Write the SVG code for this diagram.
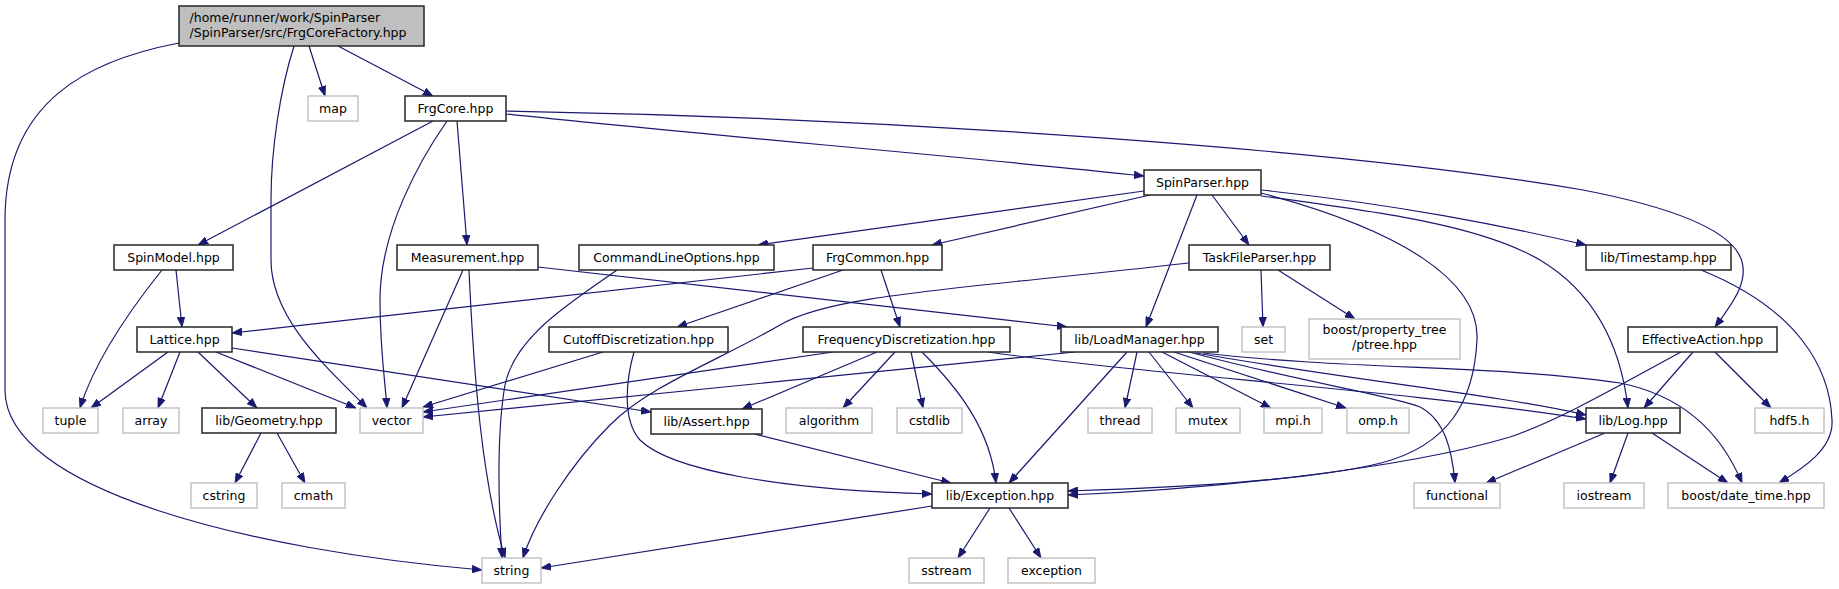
<svg xmlns="http://www.w3.org/2000/svg" width="1839" height="589" viewBox="0 0 1839 589">
<style>
.n rect{fill:#fff;stroke:#262626;stroke-width:1.5}
.x rect{fill:#fff;stroke:#c4c4c4;stroke-width:1.5}
.r rect{fill:#bfbfbf;stroke:#262626;stroke-width:1.5}
text{font-family:"DejaVu Sans","Liberation Sans",sans-serif;font-size:12.5px;fill:#000;text-anchor:middle}
#edges path{fill:none;stroke:#191970;stroke-width:1.2;marker-end:url(#a)}
</style>
<defs>
<marker id="a" viewBox="0 0 10 8" refX="10" refY="4" markerWidth="10" markerHeight="8" markerUnits="userSpaceOnUse" orient="auto">
<path d="M0,0.2L10,4L0,7.8z" fill="#191970" stroke="#191970" stroke-width="0.8"/>
</marker>
</defs>
<rect width="1839" height="589" fill="#fff"/>
<g id="edges">
<path d="M179,43 C90,60 5,100 5,220 L5,390 C5,490 250,550 482,570"/>
<path d="M294,46 C280,90 271,150 271,200 L271,260 C271,320 330,370 367,408"/>
<path d="M309,46 L325,96"/>
<path d="M338,46 L433,96"/>
<path d="M433,121 L198,245"/>
<path d="M447,121 C420,160 380,230 380,300 C380,350 385,380 387,408"/>
<path d="M457,121 L467,245"/>
<path d="M506,114 C700,135 950,155 1144,176"/>
<path d="M506,111 C900,118 1350,150 1583,190 C1790,230 1750,280 1715,327"/>
<path d="M1144,191 L758,245"/>
<path d="M1150,195 L932,245"/>
<path d="M1197,195 L1146,327"/>
<path d="M1212,195 L1249,245"/>
<path d="M1261,193 C1400,230 1480,280 1477,340 C1474,400 1450,445 1381,463 C1300,483 1150,488 1068,491"/>
<path d="M1261,196 C1380,212 1480,225 1540,260 C1590,290 1620,340 1628,408"/>
<path d="M1261,190 C1400,205 1500,225 1586,245"/>
<path d="M1261,270 L1263,327"/>
<path d="M1278,270 L1355,319"/>
<path d="M1189,263 C950,290 830,295 780,325 C720,360 650,385 610,425 C570,465 535,520 523,558"/>
<path d="M1701,270 C1800,310 1830,370 1832,420 C1834,450 1800,470 1779,483"/>
<path d="M1681,352 C1620,385 1560,420 1510,437 C1400,470 1200,490 1068,495"/>
<path d="M1693,352 L1644,408"/>
<path d="M1715,352 L1771,408"/>
<path d="M1605,433 L1486,483"/>
<path d="M1628,433 L1610,483"/>
<path d="M1652,433 L1728,483"/>
<path d="M1075,352 L423,417"/>
<path d="M1127,352 L1009,483"/>
<path d="M1137,352 L1125,408"/>
<path d="M1149,352 L1193,408"/>
<path d="M1162,352 L1271,408"/>
<path d="M1174,352 L1346,408"/>
<path d="M1189,352 C1300,382 1390,395 1420,407 C1445,420 1452,450 1455,483"/>
<path d="M1196,353 C1350,380 1500,395 1586,415"/>
<path d="M1203,353 C1350,370 1500,365 1620,383 C1680,395 1720,430 1742,483"/>
<path d="M833,352 L423,412"/>
<path d="M877,352 L742,409"/>
<path d="M895,352 L843,408"/>
<path d="M911,352 L923,408"/>
<path d="M922,352 C960,390 990,430 996,483"/>
<path d="M988,352 C1150,375 1400,390 1586,419"/>
<path d="M603,352 L423,407"/>
<path d="M634,352 C626,380 622,420 640,440 C670,470 780,490 932,494"/>
<path d="M813,268 L232,333"/>
<path d="M843,270 L677,327"/>
<path d="M881,270 L900,327"/>
<path d="M463,270 L402,408"/>
<path d="M469,270 C474,380 482,480 505,558"/>
<path d="M538,267 L1067,327"/>
<path d="M617,270 C575,300 515,335 505,385 C497,430 498,500 502,558"/>
<path d="M168,352 L91,408"/>
<path d="M180,352 L158,408"/>
<path d="M198,352 L257,408"/>
<path d="M216,352 L356,408"/>
<path d="M232,348 L651,412"/>
<path d="M162,270 C130,310 95,360 80,408"/>
<path d="M176,270 L182,327"/>
<path d="M261,433 L235,483"/>
<path d="M277,433 L305,483"/>
<path d="M754,434 L951,483"/>
<path d="M932,506 L541,568"/>
<path d="M990,508 L958,558"/>
<path d="M1009,508 L1041,558"/>
</g>
<g id="root" class="r"><rect x="179" y="6" width="245" height="40"/><text x="189.5" y="22" style="text-anchor:start">/home/runner/work/SpinParser</text><text x="189.5" y="37" style="text-anchor:start">/SpinParser/src/FrgCoreFactory.hpp</text></g>
<g id="map" class="x"><rect x="308" y="96" width="50" height="25"/><text x="333" y="113">map</text></g>
<g id="FrgCore" class="n"><rect x="405" y="96" width="101" height="25"/><text x="455.5" y="113">FrgCore.hpp</text></g>
<g id="SpinParser" class="n"><rect x="1144" y="170" width="117" height="25"/><text x="1202.5" y="187">SpinParser.hpp</text></g>
<g id="SpinModel" class="n"><rect x="114" y="245" width="119" height="25"/><text x="173.5" y="262">SpinModel.hpp</text></g>
<g id="Measurement" class="n"><rect x="397" y="245" width="141" height="25"/><text x="467.5" y="262">Measurement.hpp</text></g>
<g id="CommandLineOptions" class="n"><rect x="579" y="245" width="195" height="25"/><text x="676.5" y="262">CommandLineOptions.hpp</text></g>
<g id="FrgCommon" class="n"><rect x="813" y="245" width="129" height="25"/><text x="877.5" y="262">FrgCommon.hpp</text></g>
<g id="TaskFileParser" class="n"><rect x="1189" y="245" width="141" height="25"/><text x="1259.5" y="262">TaskFileParser.hpp</text></g>
<g id="Timestamp" class="n"><rect x="1586" y="245" width="145" height="25"/><text x="1658.5" y="262">lib/Timestamp.hpp</text></g>
<g id="Lattice" class="n"><rect x="137" y="327" width="95" height="25"/><text x="184.5" y="344">Lattice.hpp</text></g>
<g id="CutoffDiscretization" class="n"><rect x="549" y="327" width="179" height="25"/><text x="638.5" y="344">CutoffDiscretization.hpp</text></g>
<g id="FrequencyDiscretization" class="n"><rect x="803" y="327" width="207" height="25"/><text x="906.5" y="344">FrequencyDiscretization.hpp</text></g>
<g id="LoadManager" class="n"><rect x="1061" y="327" width="157" height="25"/><text x="1139.5" y="344">lib/LoadManager.hpp</text></g>
<g id="set" class="x"><rect x="1242" y="327" width="43" height="25"/><text x="1263.5" y="344">set</text></g>
<g id="ptree" class="x"><rect x="1309" y="319" width="151" height="40"/><text x="1384.5" y="334">boost/property_tree</text><text x="1384.5" y="349">/ptree.hpp</text></g>
<g id="EffectiveAction" class="n"><rect x="1628" y="327" width="149" height="25"/><text x="1702.5" y="344">EffectiveAction.hpp</text></g>
<g id="tuple" class="x"><rect x="43" y="408" width="55" height="25"/><text x="70.5" y="425">tuple</text></g>
<g id="array" class="x"><rect x="123" y="408" width="56" height="25"/><text x="151" y="425">array</text></g>
<g id="Geometry" class="n"><rect x="202" y="408" width="134" height="25"/><text x="269" y="425">lib/Geometry.hpp</text></g>
<g id="vector" class="x"><rect x="360" y="408" width="63" height="25"/><text x="391.5" y="425">vector</text></g>
<g id="Assert" class="n"><rect x="651" y="409" width="111" height="25"/><text x="706.5" y="426">lib/Assert.hpp</text></g>
<g id="algorithm" class="x"><rect x="786" y="408" width="86" height="25"/><text x="829" y="425">algorithm</text></g>
<g id="cstdlib" class="x"><rect x="897" y="408" width="65" height="25"/><text x="929.5" y="425">cstdlib</text></g>
<g id="thread" class="x"><rect x="1088" y="408" width="64" height="25"/><text x="1120" y="425">thread</text></g>
<g id="mutex" class="x"><rect x="1176" y="408" width="64" height="25"/><text x="1208" y="425">mutex</text></g>
<g id="mpi" class="x"><rect x="1264" y="408" width="58" height="25"/><text x="1293" y="425">mpi.h</text></g>
<g id="omp" class="x"><rect x="1347" y="408" width="62" height="25"/><text x="1378" y="425">omp.h</text></g>
<g id="Log" class="n"><rect x="1586" y="408" width="94" height="25"/><text x="1633" y="425">lib/Log.hpp</text></g>
<g id="hdf5" class="x"><rect x="1755" y="408" width="69" height="25"/><text x="1789.5" y="425">hdf5.h</text></g>
<g id="cstring" class="x"><rect x="191" y="483" width="66" height="25"/><text x="224" y="500">cstring</text></g>
<g id="cmath" class="x"><rect x="282" y="483" width="63" height="25"/><text x="313.5" y="500">cmath</text></g>
<g id="Exception" class="n"><rect x="932" y="483" width="136" height="25"/><text x="1000" y="500">lib/Exception.hpp</text></g>
<g id="functional" class="x"><rect x="1414" y="483" width="86" height="25"/><text x="1457" y="500">functional</text></g>
<g id="iostream" class="x"><rect x="1564" y="483" width="80" height="25"/><text x="1604" y="500">iostream</text></g>
<g id="date_time" class="x"><rect x="1668" y="483" width="156" height="25"/><text x="1746" y="500">boost/date_time.hpp</text></g>
<g id="string" class="x"><rect x="482" y="558" width="59" height="25"/><text x="511.5" y="575">string</text></g>
<g id="sstream" class="x"><rect x="909" y="558" width="75" height="25"/><text x="946.5" y="575">sstream</text></g>
<g id="exception" class="x"><rect x="1008" y="558" width="87" height="25"/><text x="1051.5" y="575">exception</text></g>
</svg>
